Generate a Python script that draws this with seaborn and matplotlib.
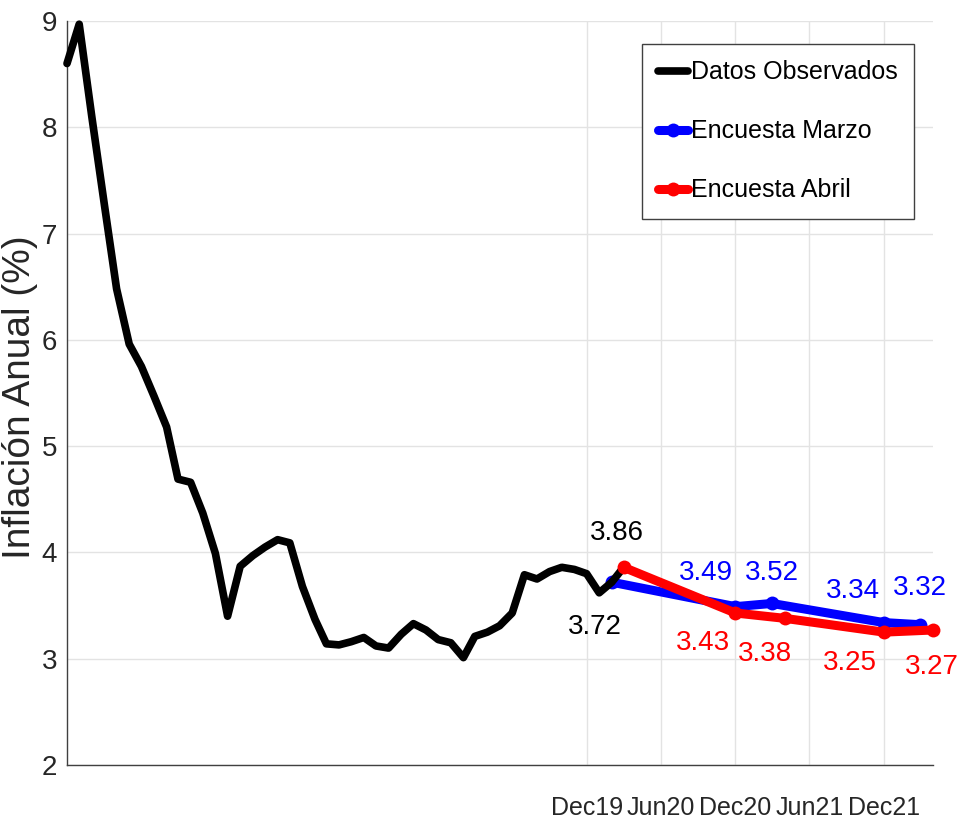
import matplotlib
matplotlib.use("Agg")
import matplotlib.pyplot as plt
import matplotlib.dates as mdates
import pandas as pd
import seaborn as sns

# observed annual inflation, Jun 2016 .. Mar 2020 (monthly)
obs_start = "2016-06-01"
obs_end = "2020-03-01"
obs_values = [8.60, 8.97, 8.10, 7.27, 6.48, 5.96, 5.75,
              5.47, 5.18, 4.69, 4.66, 4.37, 3.99, 3.40, 3.87, 3.97, 4.05, 4.12, 4.09,
              3.68, 3.37, 3.14, 3.13, 3.16, 3.20, 3.12, 3.10, 3.23, 3.33, 3.27, 3.18,
              3.15, 3.01, 3.21, 3.25, 3.31, 3.43, 3.79, 3.75, 3.82, 3.86, 3.84, 3.80,
              3.62, 3.72, 3.86]

# survey expectations
marzo_dates = ["2020-02-01", "2020-12-01", "2021-03-01", "2021-12-01", "2022-03-01"]
marzo_values = [3.72, 3.49, 3.52, 3.34, 3.32]
abril_dates = ["2020-03-01", "2020-12-01", "2021-04-01", "2021-12-01", "2022-04-01"]
abril_values = [3.86, 3.43, 3.38, 3.25, 3.27]

xtick_dates = ["2019-12-01", "2020-06-01", "2020-12-01", "2021-06-01", "2021-12-01"]
yticks = [2, 3, 4, 5, 6, 7, 8, 9]

obs = pd.DataFrame({"fecha": pd.date_range(obs_start, obs_end, freq="MS"), "valor": obs_values})
marzo = pd.DataFrame({"fecha": pd.to_datetime(marzo_dates), "valor": marzo_values})
abril = pd.DataFrame({"fecha": pd.to_datetime(abril_dates), "valor": abril_values})

sns.set_style("white")
plt.rcParams["font.family"] = ["Liberation Sans", "DejaVu Sans"]

fig = plt.figure(figsize=(9.6, 8.3), dpi=100)
ax = fig.add_axes([67 / 960, 65 / 830, 866 / 960, 744 / 830])

sns.lineplot(data=obs, x="fecha", y="valor", color="black", linewidth=5.5,
             label="Datos Observados", ax=ax, zorder=3)
sns.lineplot(data=marzo, x="fecha", y="valor", color="blue", linewidth=6.5,
             marker="o", markersize=10, markeredgewidth=0, label="Encuesta Marzo", ax=ax, zorder=2)
sns.lineplot(data=abril, x="fecha", y="valor", color="red", linewidth=6.5,
             marker="o", markersize=10, markeredgewidth=0, label="Encuesta Abril", ax=ax, zorder=4)
for ln in ax.lines:
    ln.set_clip_on(False)

# value labels
fs = 20
ax.annotate(f"{abril_values[0]:.2f}", (abril.fecha[0], abril_values[0]), xytext=(-7, 34),
            textcoords="offset pixels", ha="center", va="center", fontsize=fs, color="black")
ax.annotate(f"{marzo_values[0]:.2f}", (marzo.fecha[0], marzo_values[0]), xytext=(-17, -45),
            textcoords="offset pixels", ha="center", va="center", fontsize=fs, color="black")
blue_off = [(-29, 34), (0, 30), (-31, 32), (-1, 37)]
red_off = [(-32, -30), (-20, -36), (-34, -31), (-1, -37)]
for i in range(1, 5):
    ax.annotate(f"{marzo_values[i]:.2f}", (marzo.fecha[i], marzo_values[i]), xytext=blue_off[i - 1],
                textcoords="offset pixels", ha="center", va="center", fontsize=fs, color="blue")
    ax.annotate(f"{abril_values[i]:.2f}", (abril.fecha[i], abril_values[i]), xytext=red_off[i - 1],
                textcoords="offset pixels", ha="center", va="center", fontsize=fs, color="red")

ax.set_xlim(pd.Timestamp("2016-06-01"), pd.Timestamp("2022-04-01"))
ax.set_ylim(2, 9)
ax.set_xticks(pd.to_datetime(xtick_dates))
ax.xaxis.set_major_formatter(mdates.DateFormatter("%b%y"))
ax.set_yticks(yticks)
ax.grid(True, color="#e3e3e3", linewidth=1)
ax.set_axisbelow(True)
for side in ["top", "right"]:
    ax.spines[side].set_visible(False)
for side in ["left", "bottom"]:
    ax.spines[side].set_color("#404040")
    ax.spines[side].set_linewidth(1)
ax.tick_params(axis="both", direction="in", length=7, color="#404040", labelcolor="#262626")
ax.tick_params(axis="x", pad=22, labelsize=18)
ax.tick_params(axis="y", pad=7, labelsize=20)
ax.set_xlabel("")
ax.set_ylabel("Inflación Anual (%)", fontsize=28, color="#262626")
ax.yaxis.set_label_coords(-0.033, 0.4946)

leg = ax.legend(loc="upper right", bbox_to_anchor=(0.978, 0.969), borderaxespad=0,
                fontsize=18, frameon=True, fancybox=False, framealpha=1,
                handlelength=1.2, handletextpad=0.12, labelspacing=1.4,
                borderpad=0.65, labelcolor="black")
leg.get_frame().set_edgecolor("#404040")
leg.get_frame().set_linewidth(1)

plt.savefig("out.png", dpi=100)
